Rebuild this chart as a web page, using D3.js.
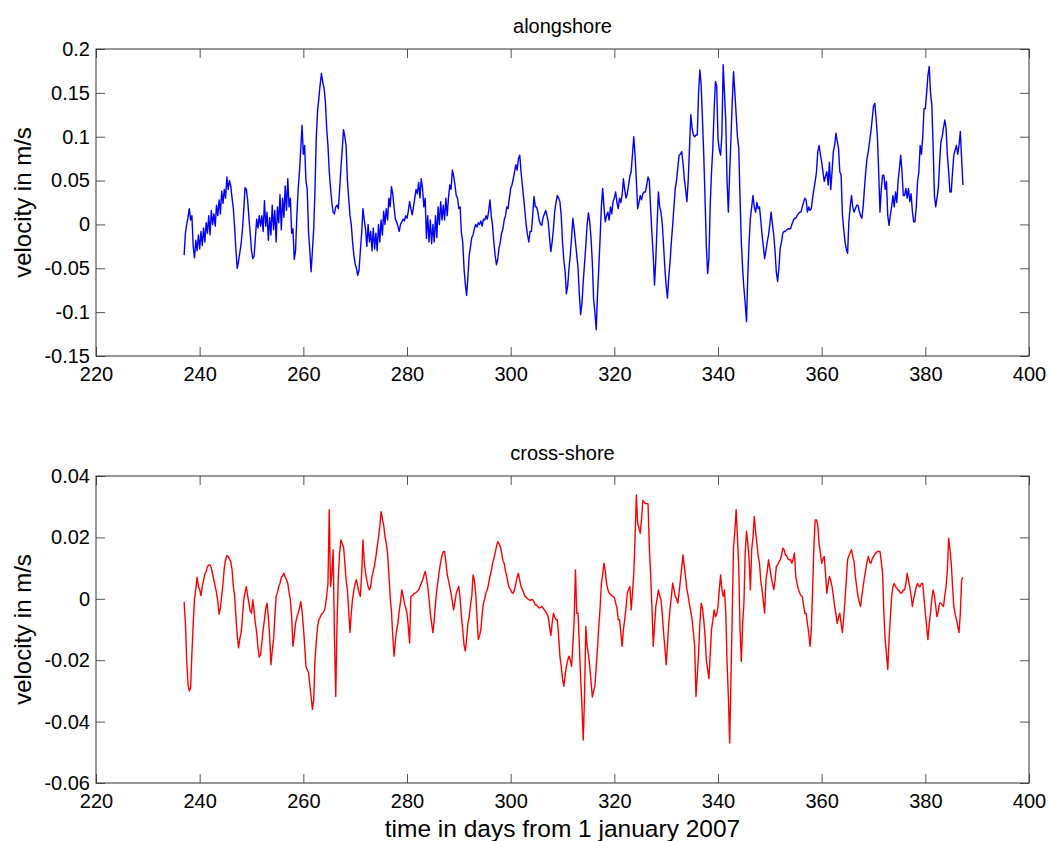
<!DOCTYPE html>
<html>
<head>
<meta charset="utf-8">
<script src="https://cdn.jsdelivr.net/npm/d3@7"></script>
<style>
  body { margin: 0; background: #fff; }
  svg { display: block; font-family: "Liberation Sans", Arial, sans-serif; }
</style>
</head>
<body>
<svg id="chart"></svg>
<script>
// Sampling of both records (days from 1 january 2007)
const startDay = 237;
const stepDays = 0.25;

// alongshore velocity, m/s, one row per day (4 samples)
const alongshore = [
  -0.035, -0.010, 0.000, 0.008,
  0.018, 0.005, 0.010, -0.025,
  -0.038, -0.018, -0.030, -0.012,
  -0.028, -0.008, -0.024, -0.004,
  -0.020, 0.002, -0.010, 0.010,
  -0.012, 0.016, 0.000, 0.012,
  -0.002, 0.022, 0.010, 0.028,
  0.012, 0.038, 0.024, 0.040,
  0.030, 0.054, 0.040, 0.050,
  0.044, 0.030, 0.018, -0.004,
  -0.030, -0.050, -0.042, -0.032,
  -0.022, -0.006, 0.016, 0.042,
  0.040, 0.028, 0.008, -0.010,
  -0.030, -0.039, -0.036, -0.015,
  0.006, -0.004, 0.010, -0.002,
  0.010, -0.008, 0.027, -0.002,
  0.014, -0.018, 0.008, -0.012,
  0.022, -0.006, 0.016, -0.020,
  0.020, 0.002, 0.034, -0.006,
  0.030, 0.008, 0.044, 0.016,
  0.052, 0.020, 0.030, -0.010,
  -0.005, -0.040, -0.030, 0.010,
  0.040, 0.060, 0.085, 0.113,
  0.080, 0.090, 0.050, 0.040,
  -0.008, -0.030, -0.054, -0.030,
  -0.005, 0.040, 0.100, 0.130,
  0.144, 0.160, 0.172, 0.162,
  0.155, 0.140, 0.110, 0.090,
  0.060, 0.041, 0.025, 0.014,
  0.012, 0.020, 0.022, 0.018,
  0.040, 0.064, 0.085, 0.108,
  0.100, 0.090, 0.050, 0.030,
  0.010, 0.000, -0.020, -0.035,
  -0.045, -0.050, -0.058, -0.052,
  -0.030, -0.010, 0.018, 0.005,
  -0.005, -0.025, 0.000, -0.020,
  -0.008, -0.030, -0.004, -0.028,
  -0.010, -0.030, 0.000, -0.020,
  0.005, -0.012, 0.015, 0.000,
  0.018, 0.005, 0.030, 0.020,
  0.043, 0.035, 0.020, 0.006,
  0.003, -0.002, -0.008, 0.000,
  0.003, 0.006, 0.004, 0.010,
  0.007, 0.015, 0.026, 0.018,
  0.011, 0.020, 0.030, 0.040,
  0.035, 0.048, 0.030, 0.052,
  0.041, 0.020, 0.030, -0.016,
  0.010, -0.020, 0.005, -0.022,
  0.000, -0.020, 0.010, -0.015,
  0.020, 0.000, 0.026, 0.005,
  0.022, 0.005, 0.030, 0.010,
  0.030, 0.045, 0.040, 0.062,
  0.055, 0.045, 0.033, 0.030,
  0.018, 0.020, -0.010, -0.020,
  -0.050, -0.068, -0.081, -0.060,
  -0.035, -0.025, -0.015, -0.012,
  -0.005, 0.000, -0.003, 0.002,
  0.000, 0.004, -0.002, 0.006,
  0.005, 0.010, 0.006, 0.015,
  0.028, 0.010, -0.001, -0.020,
  -0.035, -0.046, -0.040, -0.027,
  -0.020, -0.010, -0.005, 0.005,
  0.010, 0.020, 0.018, 0.030,
  0.041, 0.045, 0.052, 0.060,
  0.068, 0.062, 0.075, 0.079,
  0.060, 0.045, 0.030, 0.015,
  -0.001, -0.012, -0.020, -0.008,
  -0.008, 0.010, 0.032, 0.020,
  0.020, 0.014, 0.005, 0.000,
  -0.001, 0.008, 0.012, 0.016,
  0.010, 0.003, -0.015, -0.031,
  -0.020, -0.005, 0.015, 0.025,
  0.033, 0.030, 0.026, 0.010,
  -0.020, -0.040, -0.054, -0.079,
  -0.070, -0.050, -0.035, -0.015,
  0.007, -0.005, -0.020, -0.035,
  -0.050, -0.080, -0.103, -0.090,
  -0.065, -0.045, -0.024, 0.000,
  0.013, 0.003, -0.015, -0.043,
  -0.085, -0.100, -0.120, -0.080,
  -0.050, -0.016, 0.020, 0.041,
  0.020, 0.003, 0.010, 0.014,
  0.005, 0.020, 0.012, 0.026,
  0.030, 0.037, 0.025, 0.018,
  0.030, 0.025, 0.033, 0.052,
  0.040, 0.030, 0.035, 0.045,
  0.055, 0.060, 0.080, 0.100,
  0.079, 0.050, 0.018, 0.025,
  0.033, 0.028, 0.035, 0.037,
  0.037, 0.045, 0.054, 0.050,
  0.018, -0.010, -0.035, -0.069,
  -0.040, 0.000, 0.037, 0.020,
  0.014, 0.000, -0.024, -0.050,
  -0.070, -0.084, -0.060, -0.043,
  -0.020, -0.001, 0.020, 0.041,
  0.050, 0.065, 0.079, 0.080,
  0.083, 0.070, 0.052, 0.040,
  0.026, 0.050, 0.087, 0.125,
  0.110, 0.102, 0.100, 0.102,
  0.102, 0.150, 0.176, 0.159,
  0.120, 0.079, 0.030, -0.024,
  -0.056, -0.040, 0.022, 0.060,
  0.087, 0.130, 0.163, 0.158,
  0.098, 0.085, 0.079, 0.102,
  0.182, 0.150, 0.117, 0.049,
  0.014, 0.060, 0.098, 0.140,
  0.174, 0.150, 0.125, 0.100,
  0.087, 0.030, -0.020, -0.050,
  -0.073, -0.090, -0.111, -0.058,
  -0.020, 0.007, 0.020, 0.033,
  0.020, 0.014, 0.025, 0.018,
  0.020, 0.005, -0.012, -0.025,
  -0.039, -0.030, -0.020, -0.012,
  0.000, 0.014, 0.000, -0.012,
  -0.030, -0.054, -0.065, -0.050,
  -0.027, -0.020, -0.010, -0.008,
  -0.008, -0.006, -0.005, -0.005,
  -0.005, 0.000, 0.004, 0.007,
  0.007, 0.010, 0.012, 0.014,
  0.014, 0.020, 0.025, 0.030,
  0.028, 0.014, 0.020, 0.016,
  0.018, 0.030, 0.040, 0.049,
  0.060, 0.083, 0.090, 0.080,
  0.071, 0.060, 0.049, 0.055,
  0.060, 0.045, 0.071, 0.040,
  0.060, 0.083, 0.090, 0.104,
  0.095, 0.087, 0.060, 0.056,
  0.011, -0.005, -0.020, -0.028,
  -0.033, 0.003, 0.020, 0.033,
  0.020, 0.014, 0.018, 0.022,
  0.022, 0.015, 0.010, 0.007,
  0.020, 0.041, 0.060, 0.075,
  0.083, 0.095, 0.106, 0.120,
  0.135, 0.138, 0.121, 0.100,
  0.060, 0.014, 0.040, 0.056,
  0.056, 0.040, 0.049, 0.010,
  -0.001, 0.011, 0.020, 0.033,
  0.020, 0.037, 0.025, 0.050,
  0.064, 0.079, 0.060, 0.033,
  0.033, 0.041, 0.030, 0.041,
  0.026, 0.035, 0.015, 0.003,
  0.003, 0.020, 0.049, 0.060,
  0.090, 0.080, 0.100, 0.132,
  0.132, 0.150, 0.170, 0.180,
  0.150, 0.136, 0.090, 0.033,
  0.020, 0.030, 0.041, 0.070,
  0.094, 0.100, 0.110, 0.119,
  0.110, 0.079, 0.060, 0.037,
  0.037, 0.060, 0.079, 0.085,
  0.090, 0.080, 0.090, 0.106,
  0.075, 0.045
];

// cross-shore velocity, m/s, same sampling
const crossshore = [
  -0.001, -0.008, -0.020, -0.028,
  -0.030, -0.029, -0.018, -0.008,
  0.000, 0.003, 0.007, 0.004,
  0.003, 0.001, 0.004, 0.006,
  0.008, 0.009, 0.0105, 0.011,
  0.011, 0.010, 0.008, 0.006,
  0.004, 0.002, -0.001, -0.005,
  -0.003, 0.001, 0.005, 0.010,
  0.0127, 0.014, 0.0138, 0.013,
  0.012, 0.0094, 0.004, 0.0008,
  -0.006, -0.012, -0.016, -0.013,
  -0.011, -0.006, -0.0003, 0.002,
  0.004, 0.001, -0.0014, -0.004,
  -0.0047, -0.0003, -0.004, -0.008,
  -0.011, -0.016, -0.019, -0.018,
  -0.0144, -0.010, -0.0068, -0.003,
  -0.0014, -0.006, -0.012, -0.0215,
  -0.017, -0.0133, -0.006, 0.0008,
  0.002, 0.004, 0.005, 0.007,
  0.0075, 0.0083, 0.007, 0.0062,
  0.005, 0.002, -0.0003, -0.006,
  -0.0155, -0.012, -0.008, -0.006,
  -0.0047, -0.003, -0.0009, -0.004,
  -0.009, -0.015, -0.022, -0.023,
  -0.024, -0.028, -0.032, -0.036,
  -0.033, -0.0198, -0.014, -0.009,
  -0.0068, -0.006, -0.005, -0.0047,
  -0.004, -0.0025, 0.001, 0.005,
  0.029, 0.004, 0.008, 0.016,
  -0.012, -0.0318, -0.008, 0.007,
  0.015, 0.0192, 0.018, 0.017,
  0.012, 0.006, 0.0029, -0.004,
  -0.011, -0.0047, 0.000, 0.0029,
  0.005, 0.0062, 0.004, 0.002,
  0.0008, 0.008, 0.0192, 0.012,
  0.0083, 0.006, 0.004, 0.0029,
  0.004, 0.0073, 0.009, 0.011,
  0.0138, 0.017, 0.020, 0.0235,
  0.0284, 0.026, 0.024, 0.0203,
  0.018, 0.0148, 0.008, 0.0008,
  -0.004, -0.0122, -0.0187, -0.014,
  -0.010, -0.008, -0.004, -0.001,
  0.0029, 0.001, -0.0014, -0.003,
  -0.0047, -0.009, -0.0144, 0.0008,
  0.001, 0.0015, 0.0018, 0.002,
  0.0025, 0.0029, 0.004, 0.0051,
  0.006, 0.0075, 0.0089, 0.007,
  0.004, 0.000, -0.0047, -0.008,
  -0.011, -0.007, -0.0014, 0.003,
  0.006, 0.0094, 0.012, 0.014,
  0.0154, 0.0154, 0.012, 0.008,
  0.006, 0.004, 0.0018, -0.001,
  -0.0036, -0.001, 0.0018, 0.003,
  0.004, 0.000, -0.0058, -0.010,
  -0.015, -0.017, -0.013, -0.008,
  -0.006, -0.002, 0.0008, 0.0078,
  0.006, 0.0018, -0.006, -0.0133,
  -0.012, -0.010, -0.005, -0.0014,
  0.000, 0.002, 0.003, 0.005,
  0.0073, 0.009, 0.0116, 0.013,
  0.0149, 0.017, 0.0186, 0.018,
  0.017, 0.015, 0.0125, 0.0116,
  0.009, 0.0073, 0.005, 0.0035,
  0.0029, 0.002, 0.0018, 0.003,
  0.005, 0.007, 0.0083, 0.006,
  0.004, 0.003, 0.002, 0.0008,
  0.0005, 0.000, -0.0003, -0.0005,
  -0.0003, -0.0003, -0.001, -0.002,
  -0.002, -0.0025, -0.003, -0.0028,
  -0.0025, -0.003, -0.0036, -0.0042,
  -0.005, -0.0058, -0.009, -0.012,
  -0.008, -0.0047, -0.006, -0.0068,
  -0.0068, -0.012, -0.0187, -0.022,
  -0.026, -0.0285, -0.025, -0.022,
  -0.020, -0.0187, -0.020, -0.022,
  -0.015, -0.0068, 0.0094, -0.0047,
  -0.0047, -0.015, -0.026, -0.035,
  -0.046, -0.0318, -0.009, -0.0155,
  -0.018, -0.022, -0.027, -0.032,
  -0.030, -0.0285, -0.022, -0.016,
  -0.009, -0.003, 0.005, 0.008,
  0.0116, 0.009, 0.005, 0.003,
  0.0018, 0.0015, 0.001, 0.0008,
  0.0005, -0.0014, -0.003, -0.0068,
  -0.0068, -0.011, -0.0155, -0.010,
  -0.0068, -0.003, 0.0018, 0.003,
  0.004, -0.0036, 0.002, 0.0083,
  0.020, 0.0338, 0.0246, 0.023,
  0.0214, 0.026, 0.032, 0.0315,
  0.031, 0.031, 0.031, 0.017,
  0.008, -0.0025, -0.0155, -0.009,
  -0.0025, 0.000, 0.0029, 0.001,
  -0.0003, -0.005, -0.011, -0.016,
  -0.0215, -0.015, -0.008, -0.003,
  0.0005, 0.0051, 0.003, 0.0008,
  0.000, -0.0014, 0.002, 0.0062,
  0.010, 0.0143, 0.0105, 0.007,
  0.003, 0.0008, -0.002, -0.004,
  -0.0068, -0.011, -0.0155, -0.0318,
  -0.025, -0.018, -0.008, -0.0014,
  -0.003, -0.007, -0.012, -0.020,
  -0.023, -0.026, -0.018, -0.010,
  -0.007, -0.0036, -0.0058, -0.005,
  -0.0025, 0.003, 0.0078, 0.003,
  0.0008, 0.0029, -0.0047, -0.021,
  -0.032, -0.047, -0.026, -0.0047,
  0.017, 0.022, 0.029, 0.020,
  0.0105, -0.0101, -0.0204, -0.008,
  -0.0014, 0.0149, 0.022, 0.018,
  0.013, 0.0029, 0.016, 0.020,
  0.0268, 0.022, 0.018, 0.014,
  0.0116, 0.006, 0.003, -0.001,
  -0.0047, 0.0062, 0.009, 0.0127,
  0.010, 0.0073, 0.005, 0.003,
  0.006, 0.0105, 0.011, 0.012,
  0.0127, 0.014, 0.0165, 0.016,
  0.0143, 0.014, 0.013, 0.0127,
  0.0127, 0.0116, 0.013, 0.0149,
  0.0073, 0.005, 0.003, 0.002,
  0.001, 0.0008, -0.002, -0.0047,
  -0.0047, -0.008, -0.011, -0.0155,
  -0.010, 0.003, 0.017, 0.0257,
  0.0257, 0.024, 0.018, 0.015,
  0.0116, 0.013, 0.0138, 0.008,
  0.0018, 0.005, 0.0073, 0.006,
  0.004, 0.001, -0.0025, -0.005,
  -0.008, -0.006, -0.0047, -0.008,
  -0.011, -0.006, -0.0003, 0.006,
  0.0127, 0.014, 0.015, 0.016,
  0.0138, 0.012, 0.0073, 0.004,
  0.0008, -0.001, -0.0025, 0.001,
  0.004, 0.007, 0.0094, 0.012,
  0.0138, 0.012, 0.0116, 0.013,
  0.0138, 0.0145, 0.015, 0.0154,
  0.0154, 0.0154, 0.012, 0.0083,
  -0.0047, -0.0133, -0.018, -0.023,
  -0.0133, -0.006, 0.0008, 0.004,
  0.005, 0.004, 0.0035, 0.0029,
  0.0025, 0.0018, 0.002, 0.0029,
  0.0029, 0.005, 0.0083, 0.006,
  0.004, 0.001, -0.0025, 0.000,
  0.0018, 0.004, 0.005, 0.004,
  0.004, 0.005, 0.005, 0.000,
  -0.0047, -0.009, -0.0133, -0.008,
  -0.0047, 0.000, 0.0029, 0.001,
  -0.0025, -0.0058, -0.004, -0.0014,
  -0.0014, -0.002, -0.0025, 0.001,
  0.004, 0.0094, 0.0197, 0.016,
  0.0116, 0.004, -0.0025, -0.005,
  -0.0068, -0.009, -0.011, -0.0047,
  0.0062, 0.007
];

const xTicks = [220, 240, 260, 280, 300, 320, 340, 360, 380, 400];
const alongTicks = [-0.15, -0.1, -0.05, 0, 0.05, 0.1, 0.15, 0.2];
const crossTicks = [-0.06, -0.04, -0.02, 0, 0.02, 0.04];

const width = 1048, height = 841;
const svg = d3.select('#chart').attr('width', width).attr('height', height);

const left = 96, right = 1029;
const x = d3.scaleLinear().domain([220, 400]).range([left, right]);

const panels = [
  { title: 'alongshore', values: alongshore, ticks: alongTicks, domain: [-0.15, 0.2], color: '#0000ff', top: 49, bottom: 356 },
  { title: 'cross-shore', values: crossshore, ticks: crossTicks, domain: [-0.06, 0.04], color: '#ff0000', top: 476, bottom: 783 }
];

// MATLAB style: hyphen minus, no trailing zeros
const fmt = d => String(+d.toFixed(3));
const tickLen = 9;
const font = '"Liberation Sans", Arial, sans-serif';

// d3 axes put their own font on the group, so override it there
function styleAxis(sel) {
  sel.attr('font-family', font).attr('font-size', 20);
  sel.selectAll('.domain').remove();
  sel.selectAll('.tick line').attr('stroke', '#555');
  sel.selectAll('.tick text').attr('fill', '#000');
}

panels.forEach(p => {
  const y = d3.scaleLinear().domain(p.domain).range([p.bottom, p.top]);
  const g = svg.append('g');

  // data line
  const line = d3.line()
    .x((d, i) => x(startDay + i * stepDays))
    .y(d => y(d));
  g.append('path')
    .datum(p.values)
    .attr('fill', 'none')
    .attr('stroke', p.color)
    .attr('stroke-width', 1.4)
    .attr('stroke-linejoin', 'round')
    .attr('d', line);

  // axes, ticks pointing inwards on all four sides
  g.append('g').attr('transform', `translate(0,${p.bottom})`)
    .call(d3.axisBottom(x).tickValues(xTicks).tickFormat(fmt).tickSize(-tickLen).tickPadding(11))
    .call(styleAxis);
  g.append('g').attr('transform', `translate(0,${p.top})`)
    .call(d3.axisTop(x).tickValues(xTicks).tickFormat('').tickSize(-tickLen))
    .call(styleAxis);
  g.append('g').attr('transform', `translate(${left},0)`)
    .call(d3.axisLeft(y).tickValues(p.ticks).tickFormat(fmt).tickSize(-tickLen).tickPadding(6))
    .call(styleAxis);
  g.append('g').attr('transform', `translate(${right},0)`)
    .call(d3.axisRight(y).tickValues(p.ticks).tickFormat('').tickSize(-tickLen))
    .call(styleAxis);

  g.append('rect')
    .attr('x', left).attr('y', p.top)
    .attr('width', right - left).attr('height', p.bottom - p.top)
    .attr('fill', 'none').attr('stroke', '#333').attr('stroke-width', 1);

  g.append('text')
    .attr('x', (left + right) / 2).attr('y', p.top - 16)
    .attr('text-anchor', 'middle')
    .style('font-size', '20px')
    .text(p.title);

  g.append('text')
    .attr('transform', `translate(31,${(p.top + p.bottom) / 2}) rotate(-90)`)
    .attr('text-anchor', 'middle')
    .style('font-size', '24px')
    .text('velocity in m/s');
});

svg.append('text')
  .attr('x', (left + right) / 2).attr('y', 837)
  .attr('text-anchor', 'middle')
  .style('font-size', '24.5px')
  .text('time in days from 1 january 2007');
</script>
</body>
</html>
